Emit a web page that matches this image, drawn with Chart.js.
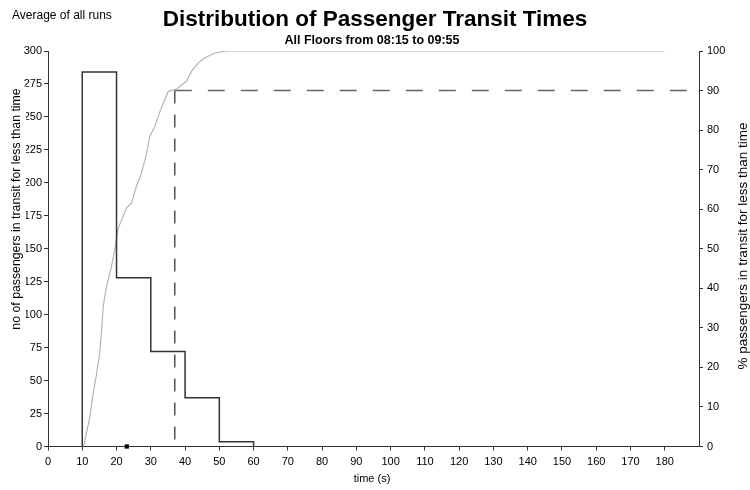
<!DOCTYPE html>
<html>
<head>
<meta charset="utf-8">
<title>Distribution of Passenger Transit Times</title>
<script src="https://cdn.jsdelivr.net/npm/chart.js@4.4.1/dist/chart.umd.min.js"></script>
<style>
    html, body { margin: 0; padding: 0; background: #fff; }
    #wrap { width: 750px; height: 490px; position: relative; }
</style>
</head>
<body>
<div id="wrap"><canvas id="transitChart"></canvas></div>
<script>
// --- Data ---

// histogram of transit times, 10 s bins (left axis)
const binEdges = [10, 20, 30, 40, 50, 60];
const binCounts = [284, 128, 72, 37, 3.6];

// cumulative % of passengers in transit for less than time (right axis)
const cumTime = [10.4, 11.2, 12.2, 13.2, 14.2, 15.1, 15.6, 16.1, 17.1, 18.5, 19.5, 20.5, 22.9, 24.4, 25.8,
                 27.3, 28.8, 29.7, 31.2, 32.7, 34.1, 35.1, 37.5, 40.5, 41.9, 43.9, 45.8, 48.7, 52.2, 180];
const cumPct = [0, 3.3, 7.5, 13.5, 18.5, 23.6, 28.7, 35.4, 40.5, 45.5, 49.7, 55.2, 60.3, 61.6, 65.8,
                69.2, 74.2, 78.4, 81, 84.8, 87.7, 89.8, 90.4, 92.4, 94.9, 97, 98.3, 99.5, 100, 100];

// 90th percentile guide and mean marker
const p90Time = 37;
const p90Pct = 90;
const meanTime = 23;

// axes
const xMax = 190;
const xTickValues = [0, 10, 20, 30, 40, 50, 60, 70, 80, 90, 100, 110, 120, 130, 140, 150, 160, 170, 180];
const leftTickValues = [0, 25, 50, 75, 100, 125, 150, 175, 200, 225, 250, 275, 300];
const rightTickValues = [0, 10, 20, 30, 40, 50, 60, 70, 80, 90, 100];

// texts
const cornerNote = 'Average of all runs';
const mainTitle = 'Distribution of Passenger Transit Times';
const subTitle = 'All Floors from 08:15 to 09:55';
const xTitle = 'time (s)';
const leftTitle = 'no of passengers in transit for less than time';
const rightTitle = '% passengers in transit for less than time';

document.addEventListener('DOMContentLoaded', () => {
    initTransitChart();
});

function initTransitChart() {
    const ctx = document.getElementById('transitChart').getContext('2d');
    const FONT = '"Liberation Sans", Arial, sans-serif';
    Chart.defaults.font.family = FONT;

    // outline of the histogram as a stepped line
    const histPoints = [{ x: binEdges[0], y: 0 }];
    binCounts.forEach((c, i) => histPoints.push({ x: binEdges[i], y: c }));
    histPoints.push({ x: binEdges[binEdges.length - 1], y: 0 });

    const cumPoints = cumTime.map((t, i) => ({ x: t, y: cumPct[i] }));

    const axisColor = '#333';
    const tickFont = { size: 11 };

    // titles drawn by hand so they sit where the original has them
    const textPlugin = {
        id: 'chartTexts',
        afterDraw(chart) {
            const c = chart.ctx;
            c.save();
            c.fillStyle = '#000';
            c.textBaseline = 'middle';

            c.textAlign = 'left';
            c.font = '12px ' + FONT;
            c.fillText(cornerNote, 12, 16);

            c.textAlign = 'center';
            c.font = 'bold 22.5px ' + FONT;
            c.fillText(mainTitle, 375, 20);
            c.font = 'bold 12.5px ' + FONT;
            c.fillText(subTitle, 372, 41);

            c.font = '11px ' + FONT;
            c.fillText(xTitle, 372, 479);

            // left title has an opaque box, it hides the first digits of the ticks
            c.save();
            c.font = '12.3px ' + FONT;
            c.translate(17, 209);
            c.rotate(-Math.PI / 2);
            const w = c.measureText(leftTitle).width;
            c.fillStyle = '#fff';
            c.fillRect(-w / 2 - 2, -8, w + 4, 17);
            c.fillStyle = '#000';
            c.fillText(leftTitle, 0, 0);
            c.restore();

            c.save();
            c.font = '13.5px ' + FONT;
            c.translate(743, 246);
            c.rotate(-Math.PI / 2);
            c.fillText(rightTitle, 0, 0);
            c.restore();

            c.restore();
        }
    };

    new Chart(ctx, {
        type: 'line',
        data: {
            datasets: [
                {
                    label: 'passengers',
                    data: histPoints,
                    yAxisID: 'y',
                    borderColor: '#333',
                    borderWidth: 1.5,
                    stepped: true,
                    pointRadius: 0
                },
                {
                    label: 'mean',
                    data: [{ x: meanTime, y: 0 }],
                    yAxisID: 'y',
                    showLine: false,
                    pointStyle: 'rect',
                    pointRadius: 3,
                    pointBackgroundColor: '#000',
                    pointBorderColor: '#000',
                    borderWidth: 0,
                    clip: false
                },
                {
                    label: 'cumulative %',
                    data: cumPoints,
                    yAxisID: 'y2',
                    borderColor: '#b4b4b4',
                    borderWidth: 1.2,
                    pointRadius: 0,
                    tension: 0
                },
                {
                    label: '90th percentile (time)',
                    data: [{ x: p90Time, y: p90Pct }, { x: p90Time, y: 0 }],
                    yAxisID: 'y2',
                    borderColor: '#555',
                    borderWidth: 1.5,
                    borderDash: [13, 11],
                    pointRadius: 0
                },
                {
                    label: '90th percentile (%)',
                    data: [{ x: p90Time, y: p90Pct }, { x: xMax, y: p90Pct }],
                    yAxisID: 'y2',
                    borderColor: '#666',
                    borderWidth: 1.5,
                    borderDash: [17, 16],
                    pointRadius: 0
                }
            ]
        },
        options: {
            responsive: true,
            maintainAspectRatio: false,
            animation: false,
            layout: { padding: { top: 51, left: 0, right: 0, bottom: 0 } },
            plugins: {
                legend: { display: false },
                tooltip: { enabled: false },
                title: { display: false }
            },
            scales: {
                x: {
                    type: 'linear',
                    min: 0,
                    max: xMax,
                    afterBuildTicks: s => { s.ticks = xTickValues.map(v => ({ value: v })); },
                    afterFit: s => { s.height = 43.5; },
                    grid: { drawOnChartArea: false, tickLength: 4, color: axisColor },
                    border: { color: axisColor, width: 1 },
                    ticks: { font: tickFont, color: '#000', padding: 5, maxRotation: 0, autoSkip: false }
                },
                y: {
                    position: 'left',
                    min: 0,
                    max: 300,
                    afterBuildTicks: s => { s.ticks = leftTickValues.map(v => ({ value: v })); },
                    afterFit: s => { s.width = 48; },
                    grid: { drawOnChartArea: false, tickLength: 4, color: axisColor },
                    border: { color: axisColor, width: 1 },
                    ticks: { font: tickFont, color: '#000', padding: 2 }
                },
                y2: {
                    position: 'right',
                    min: 0,
                    max: 100,
                    afterBuildTicks: s => { s.ticks = rightTickValues.map(v => ({ value: v })); },
                    afterFit: s => { s.width = 51; },
                    grid: { drawOnChartArea: false, tickLength: 4, color: axisColor },
                    border: { color: axisColor, width: 1 },
                    ticks: { font: tickFont, color: '#000', padding: 4 }
                }
            }
        },
        plugins: [textPlugin]
    });
}
</script>
</body>
</html>
